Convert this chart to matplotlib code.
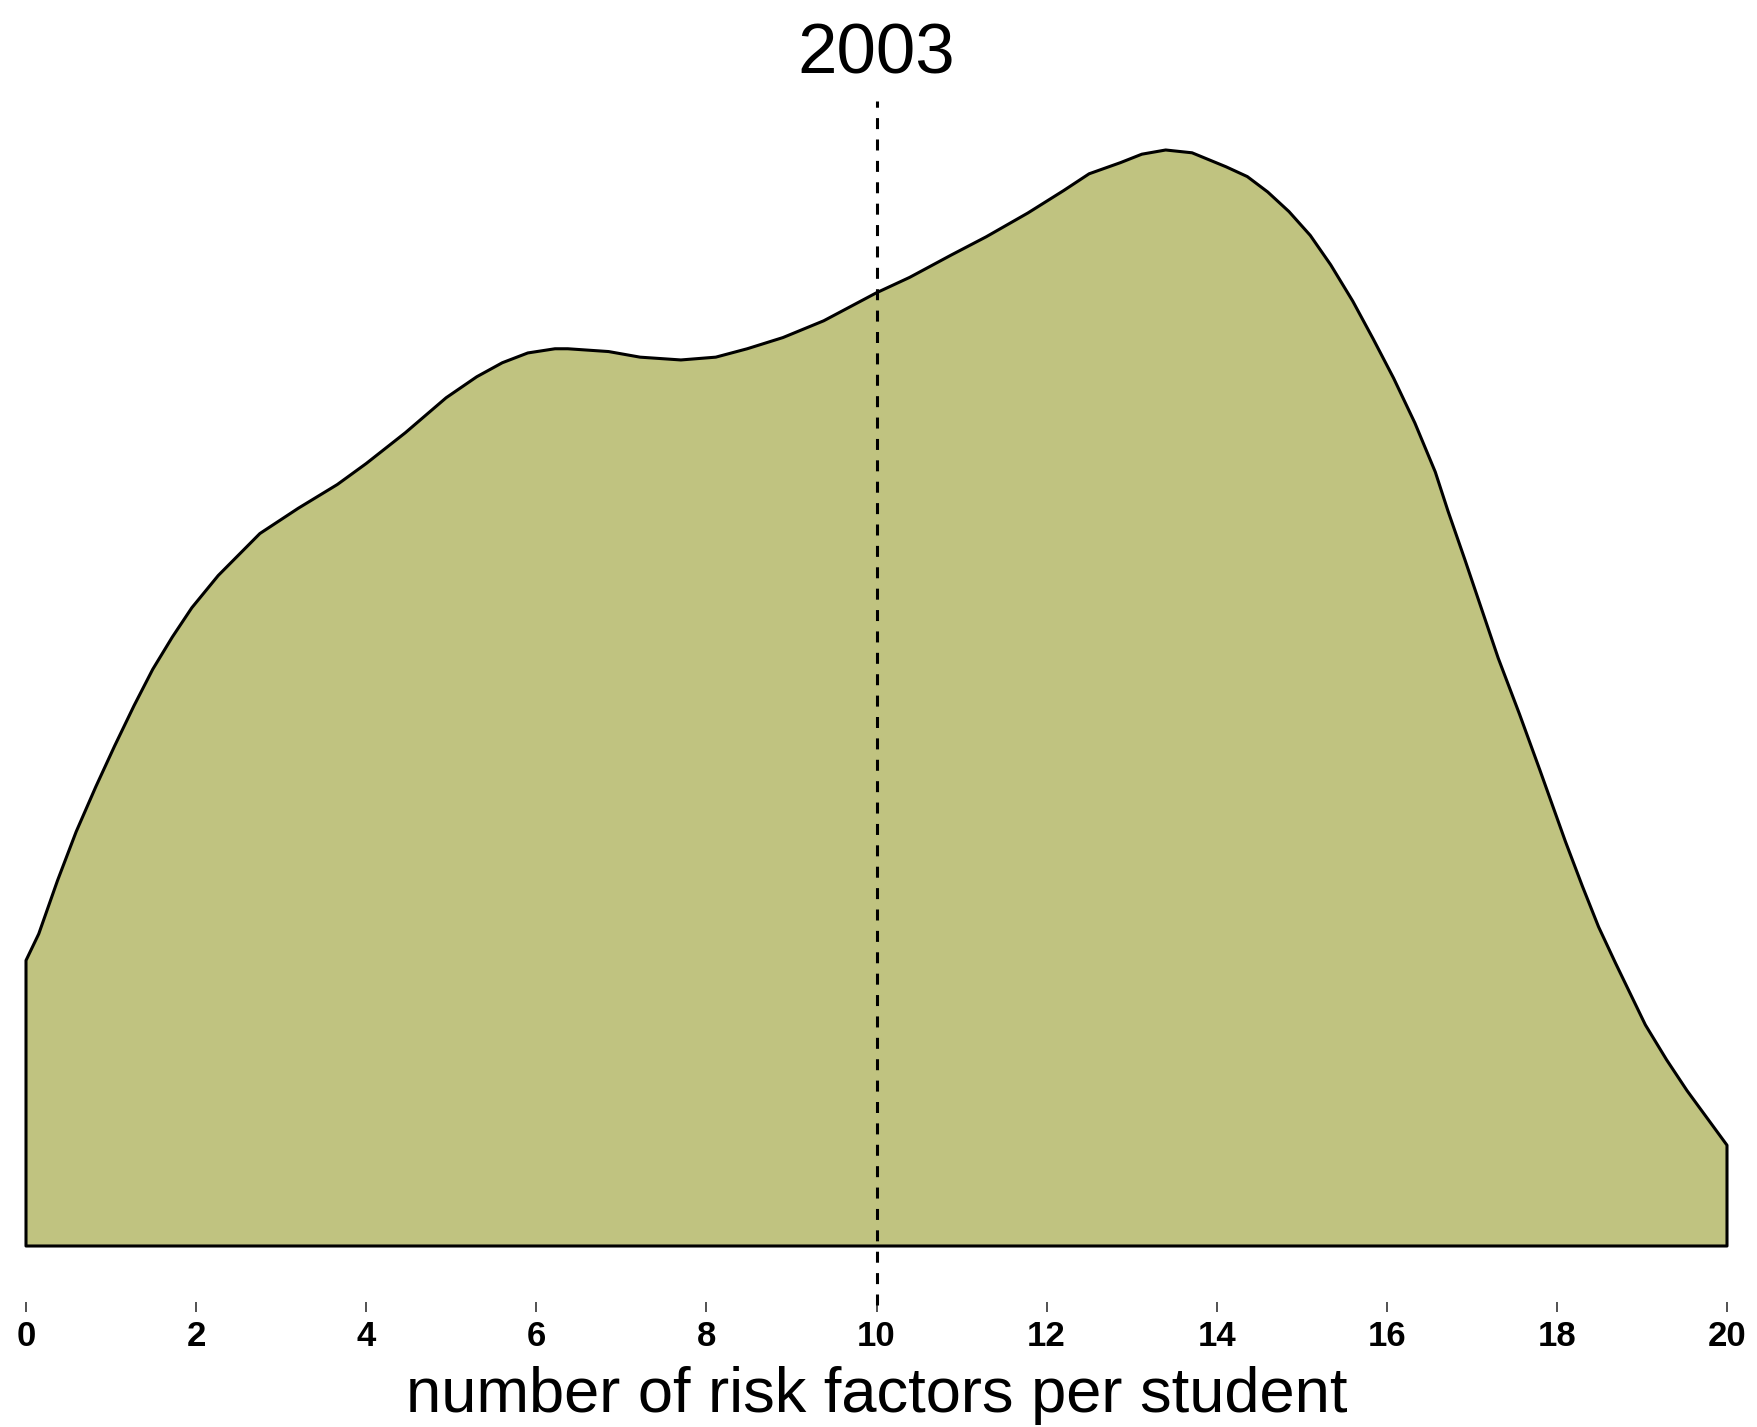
"""
density of risk factors per student, 2003
"""

import numpy as np
from matplotlib import pyplot as plt

# density curve
risk_factors = [0.0, 0.15, 0.37, 0.59, 0.82, 1.04, 1.27, 1.49, 1.72, 1.95,
                2.26, 2.75, 3.2, 3.66, 4.0, 4.46, 4.94, 5.3, 5.6, 5.9,
                6.22, 6.37, 6.85, 7.22, 7.7, 8.11, 8.48, 8.9, 9.38, 10.0,
                10.39, 10.88, 11.29, 11.78, 12.2, 12.5, 12.87, 13.12, 13.4, 13.71,
                14.11, 14.36, 14.6, 14.85, 15.1, 15.34, 15.6, 15.84, 16.08, 16.33,
                16.57, 16.72, 16.92, 17.31, 17.56, 17.8, 18.1, 18.3, 18.49, 18.69,
                19.04, 19.29, 19.53, 20.0]
density = [0.0204, 0.0223, 0.0261, 0.0296, 0.0328, 0.0357, 0.0386, 0.0412, 0.0435, 0.0456,
           0.0479, 0.0509, 0.0527, 0.0544, 0.0559, 0.0581, 0.0606, 0.0621, 0.0631, 0.0638,
           0.0641, 0.0641, 0.0639, 0.0635, 0.0633, 0.0635, 0.0641, 0.0649, 0.0661, 0.0681,
           0.0692, 0.0708, 0.0721, 0.0738, 0.0754, 0.0766, 0.0774, 0.0780, 0.0783, 0.0781,
           0.0771, 0.0764, 0.0753, 0.0739, 0.0722, 0.0701, 0.0675, 0.0648, 0.0620, 0.0588,
           0.0553, 0.0525, 0.0490, 0.0420, 0.0380, 0.0340, 0.0289, 0.0257, 0.0228, 0.0202,
           0.0158, 0.0133, 0.0111, 0.0072]

median_value = 10
year = '2003'
xticks = list(range(0, 21, 2))

W, H = 1758, 1427

fig = plt.figure(figsize=(W / 100, H / 100), dpi=100)
ax = fig.add_axes([26 / W, 1 - 1246 / H, 1701 / W, (1246 - 101) / H])

x = np.array(risk_factors)
y = np.array(density)

# gevulde dichtheid met zwarte rand
poly_x = np.concatenate([[x[0]], x, [x[-1]]])
poly_y = np.concatenate([[0], y, [0]])
ax.fill(poly_x, poly_y, facecolor='#c0c380', edgecolor='black', lw=2.2,
        joinstyle='round', clip_on=False)

# mediaan lijn
ax.plot([median_value, median_value], [-0.0042, 0.0818], color='black',
        lw=2.2, dashes=(3.6, 3.4), clip_on=False)

ax.set_xlim(0, 20)
ax.set_ylim(0, 0.0818)
ax.set_yticks([])
for s in ['left', 'right', 'top']:
    ax.spines[s].set_visible(False)
ax.spines['bottom'].set_position(('outward', 40.3))
ax.spines['bottom'].set_visible(False)

ax.set_xticks(xticks)
ax.set_xticklabels([str(t) for t in xticks], fontsize=25, fontweight='bold',
                   family='Liberation Sans')
ax.tick_params(axis='x', length=7.2, width=1.2, color='#333333', pad=6)

ax.set_xlabel('number of risk factors per student', fontsize=45.5,
              family='Liberation Sans', va='baseline')
ax.xaxis.set_label_coords(0.5, -(1412 - 1246) / (1246 - 101))

fig.text(876 / W, 1 - 73 / H, year, fontsize=51, family='Liberation Sans',
         ha='center', va='baseline')

plt.savefig('out.png', dpi=100)
